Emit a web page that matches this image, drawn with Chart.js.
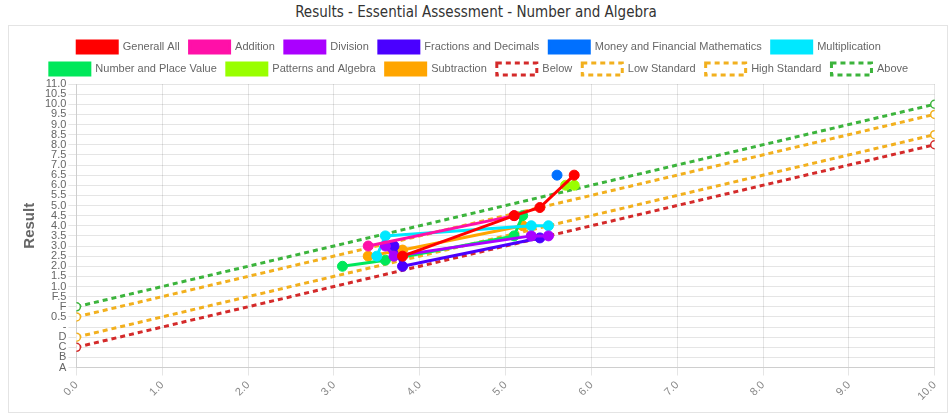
<!DOCTYPE html>
<html>
<head>
<meta charset="utf-8">
<script src="https://cdn.jsdelivr.net/npm/chart.js@4/dist/chart.umd.min.js"></script>
<style>
  html, body { margin: 0; padding: 0; background: #fff; }
  #title { position: absolute; left: 0; top: 3px; width: 952px; text-align: center;
           font-family: "Liberation Sans Narrow", "DejaVu Sans Condensed", "Liberation Sans", sans-serif;
           font-size: 15px; color: #333; }
  #box { position: absolute; left: 8px; top: 25px; width: 938px; height: 386px;
         border: 1px solid #e4e4e4; }
  canvas { display: block; }
</style>
</head>
<body>
<div id="title">Results - Essential Assessment - Number and Algebra</div>
<div id="box"><canvas id="c" width="938" height="386"></canvas></div>
<script>
// ---- data ----
const seriesNames = ["Generall All", "Addition", "Division", "Fractions and Decimals",
  "Money and Financial Mathematics", "Multiplication", "Number and Place Value",
  "Patterns and Algebra", "Subtraction"];
const seriesColors = ["#ff0000", "#ff10a8", "#aa00ff", "#4a00ff", "#0070ff",
  "#00e8ff", "#00e85a", "#99ff00", "#ffa500"];

const generalX = [3.8, 5.1, 5.4, 5.8];
const generalY = [2.5, 4.5, 4.9, 6.5];
const additionX = [3.4, 5.1];
const additionY = [3.0, 4.5];
const divisionX = [3.6, 3.7, 5.3, 5.5];
const divisionY = [3.0, 2.5, 3.5, 3.5];
const fractionsX = [3.7, 3.8, 5.4];
const fractionsY = [3.0, 2.0, 3.4];
const moneyX = [5.6];
const moneyY = [6.5];
const multiplicationX = [3.5, 3.6, 5.3, 5.5];
const multiplicationY = [2.5, 3.5, 4.0, 4.0];
const placeValueX = [3.1, 3.6, 5.1, 5.2];
const placeValueY = [2.0, 2.3, 3.5, 4.5];
const patternsX = [5.7, 5.8];
const patternsY = [6.0, 6.0];
const subtractionX = [3.4, 3.8, 5.2];
const subtractionY = [2.5, 2.8, 4.0];

const refNames = ["Below", "Low Standard", "High Standard", "Above"];
const refColors = ["#d42a2a", "#f2b01e", "#f2b01e", "#3cb43c"];
const refX = [0, 10];
const belowY = [-2, 8];
const lowStdY = [-1.5, 8.5];
const highStdY = [-0.5, 9.5];
const aboveY = [0, 10];

const yTickLabels = ["A", "B", "C", "D", "-", "0.5", "F", "F.5",
  "1.0", "1.5", "2.0", "2.5", "3.0", "3.5", "4.0", "4.5", "5.0", "5.5",
  "6.0", "6.5", "7.0", "7.5", "8.0", "8.5", "9.0", "9.5", "10.0", "10.5", "11.0"];
const xTickLabels = ["0.0", "1.0", "2.0", "3.0", "4.0", "5.0", "6.0", "7.0", "8.0", "9.0", "10.0"];
const yMin = -3, yMax = 11, yStep = 0.5;

// ---- build ----
function pts(xs, ys) { return xs.map((x, i) => ({ x: x, y: ys[i] })); }
const seriesXY = [[generalX, generalY], [additionX, additionY], [divisionX, divisionY],
  [fractionsX, fractionsY], [moneyX, moneyY], [multiplicationX, multiplicationY],
  [placeValueX, placeValueY], [patternsX, patternsY], [subtractionX, subtractionY]];
const datasets = seriesNames.map((n, i) => ({
  label: n,
  data: pts(seriesXY[i][0], seriesXY[i][1]),
  borderColor: seriesColors[i],
  backgroundColor: seriesColors[i],
  borderWidth: 3,
  pointRadius: 5,
  pointBorderWidth: 1,
  pointBackgroundColor: seriesColors[i],
  fill: false,
  tension: 0
}));
const refYs = [belowY, lowStdY, highStdY, aboveY];
refNames.forEach((n, i) => datasets.push({
  label: n,
  data: pts(refX, refYs[i]),
  borderColor: refColors[i],
  backgroundColor: "#ffffff",
  borderWidth: 3,
  borderDash: [5, 4],
  pointRadius: 4,
  pointBorderWidth: 1.5,
  pointBackgroundColor: "#ffffff",
  fill: false
}));

Chart.defaults.font.family = "'Liberation Sans', Arial, sans-serif";
Chart.defaults.color = "#666";

// shrink the space reserved below the legend slightly
const legendTighten = {
  id: "legendTighten",
  beforeInit(chart) {
    const origFit = chart.legend.fit;
    chart.legend.fit = function () { origFit.call(this); this.height -= 1; };
  }
};

new Chart(document.getElementById("c"), {
  type: "line",
  data: { datasets: datasets },
  plugins: [legendTighten],
  options: {
    responsive: false,
    animation: false,
    layout: { padding: { left: 8, right: 6, top: 5, bottom: 6 } },
    plugins: {
      legend: {
        labels: { boxWidth: 40, boxHeight: 12, padding: 10, font: { size: 11 }, color: "#666" }
      },
      tooltip: { enabled: false }
    },
    scales: {
      x: {
        type: "linear", min: 0, max: 10,
        ticks: { stepSize: 1, minRotation: 45, maxRotation: 45, font: { size: 11 }, color: "#888",
          callback: (v) => xTickLabels[Math.round(v)] },
        grid: { color: "rgba(0,0,0,0.1)" }
      },
      y: {
        type: "linear", min: yMin, max: yMax,
        afterBuildTicks: (scale) => {
          scale.ticks = yTickLabels.map((_, i) => ({ value: yMin + i * yStep }));
        },
        ticks: { stepSize: yStep, autoSkip: false, font: { size: 11 }, color: "#666", padding: 2,
          callback: (v) => yTickLabels[Math.round((v - yMin) / yStep)] },
        grid: { color: "rgba(0,0,0,0.1)" },
        title: { display: true, text: "Result", font: { size: 15, weight: "bold" }, color: "#666" }
      }
    }
  }
});
</script>
</body>
</html>
